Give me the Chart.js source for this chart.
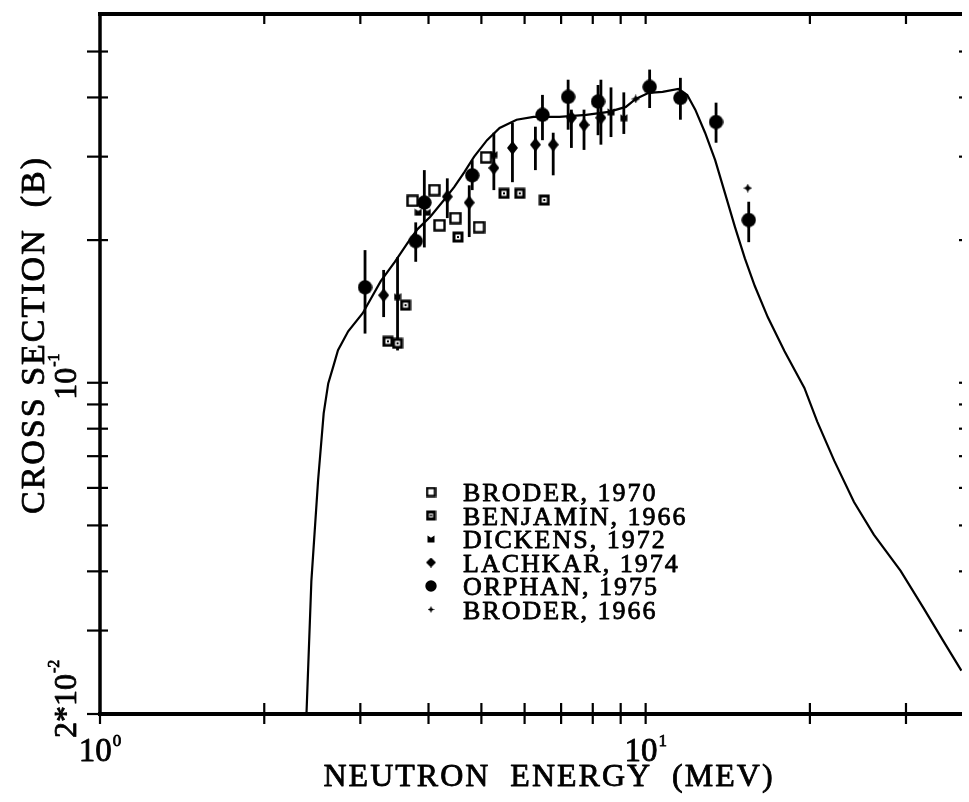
<!DOCTYPE html>
<html>
<head>
<meta charset="utf-8">
<script src="https://cdn.jsdelivr.net/npm/chart.js@4.4.0/dist/chart.umd.min.js"></script>
<style>
  html, body { margin: 0; padding: 0; background: #fff; }
</style>
</head>
<body>
<canvas id="xsec" width="969" height="802"></canvas>
<script>
// evaluated cross section (barns) vs neutron energy (MeV)
const curveEnergy = [2.39, 2.44, 2.51, 2.57, 2.62, 2.68, 2.73, 2.85, 3.03, 3.27,
  3.47, 3.66, 3.82, 4.03, 4.27, 4.46, 4.65, 4.85, 5.12, 5.40,
  5.80, 6.23, 6.95, 7.78, 8.56, 9.20, 9.59, 10.13, 10.74, 11.48,
  11.92, 12.33, 12.85, 13.41, 13.98, 14.58, 15.20, 15.85, 16.74, 17.97,
  19.54, 20.63, 22.16, 24.09, 26.19, 29.33, 32.29, 35.13, 37.9];
const curveSigma = [0.020, 0.0382, 0.0622, 0.0862, 0.0997, 0.1088, 0.1171, 0.1284, 0.1402, 0.1638,
  0.180, 0.197, 0.211, 0.224, 0.243, 0.259, 0.278, 0.300, 0.325, 0.345,
  0.359, 0.364, 0.364, 0.3676, 0.373, 0.382, 0.397, 0.409, 0.411, 0.417,
  0.405, 0.377, 0.337, 0.295, 0.251, 0.213, 0.183, 0.160, 0.1376, 0.1165,
  0.0975, 0.0828, 0.0685, 0.0560, 0.0478, 0.0401, 0.0335, 0.0285, 0.0247];

// measurements
const broder70E = [3.74, 4.10, 4.19, 4.48, 4.95, 5.10];
const broder70S = [0.242, 0.255, 0.215, 0.2226, 0.213, 0.299];

const benjaminE = [3.37, 3.51, 3.63, 4.53, 5.50, 5.88, 6.52];
const benjaminS = [0.1223, 0.1211, 0.1458, 0.203, 0.251, 0.251, 0.243];

const dickensE = [3.51, 3.83, 3.98, 5.27, 8.64, 9.12];
const dickensS = [0.152, 0.229, 0.229, 0.303, 0.373, 0.3625];
const dickensLo = [0.117, null, null, null, 0.330, 0.335];
const dickensHi = [0.184, null, null, null, 0.420, 0.410];

const lachkarE = [3.31, 4.33, 4.75, 5.27, 5.70, 6.28, 6.77, 7.31, 7.71, 8.28];
const lachkarS = [0.153, 0.247, 0.240, 0.284, 0.313, 0.318, 0.318, 0.3625, 0.350, 0.3625];
const lachkarLo = [0.1376, 0.2226, 0.203, 0.255, 0.265, 0.281, 0.274, 0.313, 0.310, 0.318];
const lachkarHi = [0.173, 0.270, 0.261, 0.337, 0.354, 0.347, 0.337, 0.377, 0.377, 0.436];

const orphanE = [3.06, 3.79, 3.93, 4.81, 6.47, 7.21, 8.18, 10.17, 11.58, 13.46, 15.45];
const orphanS = [0.159, 0.199, 0.240, 0.274, 0.3676, 0.401, 0.392, 0.421, 0.399, 0.355, 0.2205];
const orphanLo = [0.127, 0.180, 0.193, 0.255, 0.325, 0.342, 0.333, 0.380, 0.359, 0.321, 0.198];
const orphanHi = [0.1905, 0.218, 0.281, 0.295, 0.405, 0.436, 0.425, 0.458, 0.440, 0.390, 0.241];

const broder66E = [9.59, 15.39];
const broder66S = [0.397, 0.2575];

const legendNames = ['BRODER, 1970', 'BENJAMIN, 1966', 'DICKENS, 1972',
  'LACHKAR, 1974', 'ORPHAN, 1975', 'BRODER, 1966'];

const xTickValues = [2, 3, 4, 5, 6, 7, 8, 9, 10, 20, 30];
const yTickValues = [0.03, 0.04, 0.05, 0.06, 0.07, 0.08, 0.09, 0.1, 0.2, 0.3, 0.4, 0.5];
const xLabelValues = [1, 10];
const xLabelExps = ['0', '1'];
const yLabelValues = [0.1, 0.02];
const yLabelBases = ['10', '2*10'];
const yLabelExps = ['-1', '-2'];

const SERIF = '"Liberation Serif", "DejaVu Serif", serif';

// little canvases used as point styles (and reused in the key)
function makeMarker(kind, w, h) {
  h = h || w;
  const c = document.createElement('canvas');
  c.width = w; c.height = h;
  const g = c.getContext('2d');
  const mx = w / 2, my = h / 2;
  g.fillStyle = '#000';
  g.strokeStyle = '#000';
  if (kind === 'open') {
    g.fillStyle = '#fff';
    g.fillRect(1, 1, w - 2, h - 2);
    g.lineWidth = 2.4;
    g.strokeRect(1.5, 1.5, w - 3, h - 3);
  } else if (kind === 'dotted') {
    g.fillStyle = '#fff';
    g.fillRect(1, 1, w - 2, h - 2);
    g.lineWidth = 3;
    g.strokeRect(2, 2, w - 4, h - 4);
    g.fillStyle = '#000';
    g.fillRect(mx - 1, my - 1, 2, 2);
  } else if (kind === 'bowtie') {
    g.beginPath();
    g.moveTo(0.5, 0.5);
    g.lineTo(mx, h * 0.35);
    g.lineTo(w - 0.5, 0.5);
    g.lineTo(w - 0.5, h - 0.5);
    g.lineTo(0.5, h - 0.5);
    g.closePath();
    g.fill();
  } else if (kind === 'diamond') {
    g.beginPath();
    g.moveTo(mx, 0);
    g.lineTo(w, my);
    g.lineTo(mx, h);
    g.lineTo(0, my);
    g.closePath();
    g.fill();
  } else if (kind === 'disc') {
    g.beginPath();
    g.ellipse(mx, my, mx - 0.3, my - 0.3, 0, 0, Math.PI * 2);
    g.fill();
  } else if (kind === 'star') {
    const q = w * 0.16;
    g.beginPath();
    g.moveTo(mx, 0);
    g.lineTo(mx + q, my - q);
    g.lineTo(w, my);
    g.lineTo(mx + q, my + q);
    g.lineTo(mx, h);
    g.lineTo(mx - q, my + q);
    g.lineTo(0, my);
    g.lineTo(mx - q, my - q);
    g.closePath();
    g.fill();
  }
  return c;
}

const plotMarkers = [makeMarker('open', 13), makeMarker('dotted', 12), makeMarker('bowtie', 8),
  makeMarker('diamond', 11, 14), makeMarker('disc', 15), makeMarker('star', 9)];
const keyMarkers = [makeMarker('open', 11), makeMarker('dotted', 11), makeMarker('bowtie', 8),
  makeMarker('diamond', 10), makeMarker('disc', 12), makeMarker('star', 7)];

function pts(xs, ys) {
  return xs.map((x, i) => ({ x: x, y: ys[i] }));
}

function series(label, xs, ys, marker, lo, hi) {
  return {
    label: label,
    data: pts(xs, ys),
    showLine: false,
    pointStyle: marker,
    pointRadius: 6,
    errLo: lo || null,
    errHi: hi || null
  };
}

// vertical error bars, drawn under the markers
const errorBars = {
  id: 'errorBars',
  beforeDatasetsDraw(chart) {
    const { ctx, chartArea } = chart;
    const x = chart.scales.x, y = chart.scales.y;
    ctx.save();
    ctx.beginPath();
    ctx.rect(chartArea.left, chartArea.top, chartArea.right - chartArea.left, chartArea.bottom - chartArea.top);
    ctx.clip();
    ctx.strokeStyle = '#000';
    ctx.lineWidth = 2.8;
    chart.data.datasets.forEach((ds) => {
      if (!ds.errLo) return;
      ds.data.forEach((p, i) => {
        const lo = ds.errLo[i], hi = ds.errHi[i];
        if (lo == null || hi == null) return;
        const px = x.getPixelForValue(p.x);
        ctx.beginPath();
        ctx.moveTo(px, y.getPixelForValue(lo));
        ctx.lineTo(px, y.getPixelForValue(hi));
        ctx.stroke();
      });
    });
    ctx.restore();
  }
};

// filled text with a thin outline so the strokes read heavier
function heavyText(ctx, str, x, y) {
  ctx.fillText(str, x, y);
  ctx.strokeText(str, x, y);
}

function drawPowerLabel(ctx, base, exp, size, expSize, rise) {
  // base + raised exponent from the current origin, left aligned
  ctx.font = size + 'px ' + SERIF;
  heavyText(ctx, base, 0, 0);
  const w = ctx.measureText(base).width;
  ctx.font = expSize + 'px ' + SERIF;
  heavyText(ctx, exp, w + 1, -rise);
  return w + 1 + ctx.measureText(exp).width;
}

// frame, ticks, labels, titles and the key
const frame = {
  id: 'frame',
  afterDraw(chart) {
    const { ctx, chartArea } = chart;
    const x = chart.scales.x, y = chart.scales.y;
    const L = chartArea.left, R = chartArea.right, T = chartArea.top, B = chartArea.bottom;
    ctx.save();
    ctx.strokeStyle = '#000';
    ctx.fillStyle = '#000';
    ctx.lineCap = 'butt';

    // axes lines
    ctx.lineWidth = 4;
    ctx.beginPath(); ctx.moveTo(L - 2, T); ctx.lineTo(R, T); ctx.stroke();
    ctx.beginPath(); ctx.moveTo(L - 2, B); ctx.lineTo(R, B); ctx.stroke();
    ctx.lineWidth = 3.5;
    ctx.beginPath(); ctx.moveTo(L, T - 2); ctx.lineTo(L, B + 2); ctx.stroke();

    // ticks on x: crossing the bottom, inward from the top
    ctx.lineWidth = 2.2;
    xTickValues.forEach((v) => {
      const px = x.getPixelForValue(v);
      ctx.beginPath(); ctx.moveTo(px, B - 11); ctx.lineTo(px, B + 10); ctx.stroke();
      ctx.beginPath(); ctx.moveTo(px, T); ctx.lineTo(px, T + 10); ctx.stroke();
    });
    ctx.beginPath(); ctx.moveTo(L, B); ctx.lineTo(L, B + 10); ctx.stroke();

    // ticks on y: crossing the left axis, stubs at the right edge
    yTickValues.forEach((v) => {
      const py = y.getPixelForValue(v);
      ctx.beginPath(); ctx.moveTo(L - 13, py); ctx.lineTo(L + 8, py); ctx.stroke();
      ctx.beginPath(); ctx.moveTo(R - 3, py); ctx.lineTo(R, py); ctx.stroke();
    });
    ctx.beginPath(); ctx.moveTo(L - 13, B); ctx.lineTo(L, B); ctx.stroke();

    ctx.lineWidth = 0.8;
    ctx.lineJoin = 'round';

    // x tick labels
    ctx.textAlign = 'left';
    ctx.textBaseline = 'alphabetic';
    xLabelValues.forEach((v, i) => {
      const px = x.getPixelForValue(v);
      ctx.font = '33px ' + SERIF;
      const w1 = ctx.measureText('10').width;
      ctx.font = '17px ' + SERIF;
      const w2 = ctx.measureText(xLabelExps[i]).width;
      ctx.save();
      ctx.translate(px - (w1 + w2 + 1) / 2, B + 47);
      drawPowerLabel(ctx, '10', xLabelExps[i], 33, 17, 15);
      ctx.restore();
    });

    // y tick labels, rotated
    yLabelValues.forEach((v, i) => {
      const py = y.getPixelForValue(v);
      ctx.save();
      ctx.translate(L - 24, i === 0 ? py + 17 : py + 24);
      ctx.rotate(-Math.PI / 2);
      drawPowerLabel(ctx, yLabelBases[i], yLabelExps[i], 32, 16, 17);
      ctx.restore();
    });

    // axis titles
    ctx.textAlign = 'center';
    ctx.font = '32px ' + SERIF;
    ctx.letterSpacing = '2px';
    heavyText(ctx, 'NEUTRON  ENERGY  (MEV)', 549, 786);
    ctx.save();
    ctx.translate(44, 335);
    ctx.rotate(-Math.PI / 2);
    ctx.font = '34px ' + SERIF;
    heavyText(ctx, 'CROSS SECTION  (B)', 0, 0);
    ctx.restore();

    // key
    ctx.textAlign = 'left';
    ctx.font = '26px ' + SERIF;
    ctx.letterSpacing = '2px';
    legendNames.forEach((name, i) => {
      const cy = 492 + i * 23.5;
      const mk = keyMarkers[i];
      ctx.drawImage(mk, 431 - mk.width / 2, cy - mk.height / 2);
      heavyText(ctx, name, 463, cy + 9);
    });
    ctx.restore();
  }
};

const ctx = document.getElementById('xsec').getContext('2d');
new Chart(ctx, {
  type: 'scatter',
  data: {
    datasets: [
      series(legendNames[0], broder70E, broder70S, plotMarkers[0]),
      series(legendNames[1], benjaminE, benjaminS, plotMarkers[1]),
      series(legendNames[4], orphanE, orphanS, plotMarkers[4], orphanLo, orphanHi),
      series(legendNames[3], lachkarE, lachkarS, plotMarkers[3], lachkarLo, lachkarHi),
      series(legendNames[2], dickensE, dickensS, plotMarkers[2], dickensLo, dickensHi),
      series(legendNames[5], broder66E, broder66S, plotMarkers[5]),
      {
        label: 'evaluation',
        data: pts(curveEnergy, curveSigma),
        showLine: true,
        pointRadius: 0,
        borderColor: '#000',
        borderWidth: 2.2,
        tension: 0
      }
    ]
  },
  options: {
    responsive: false,
    animation: false,
    events: [],
    layout: { padding: { left: 100, right: 0, top: 14, bottom: 88 } },
    plugins: { legend: { display: false }, tooltip: { enabled: false } },
    scales: {
      x: { type: 'logarithmic', min: 1, max: 38, display: false },
      y: { type: 'logarithmic', min: 0.02, max: 0.6, display: false }
    }
  },
  plugins: [errorBars, frame]
});
</script>
</body>
</html>
